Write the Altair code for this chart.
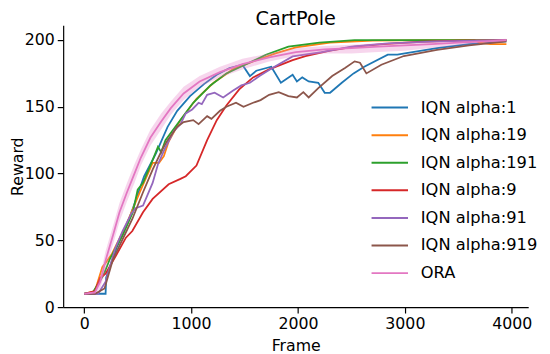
import altair as alt
import pandas as pd

names = ["IQN alpha:1", "IQN alpha:19", "IQN alpha:191", "IQN alpha:9",
         "IQN alpha:91", "IQN alpha:919", "ORA"]
colors = ["#1f77b4", "#ff7f0e", "#2ca02c", "#d62728", "#9467bd", "#8c564b", "#e377c2"]

blue_x = [0, 200, 205, 300, 420, 560, 670, 780, 870, 990, 1120, 1240, 1360, 1480, 1550, 1610,
          1750, 1840, 1950, 1990, 2040, 2100, 2190, 2250, 2300, 2410, 2520, 2620, 2840, 2930,
          3000, 3300, 3600, 3950]
blue_y = [10, 10, 22, 44, 66, 98, 115, 135, 147, 158, 167, 174, 179, 181.5, 173, 177,
          180, 168, 174, 169, 172, 169, 168, 160.5, 160.5, 168, 175, 180, 189, 189,
          190, 194, 197, 199]

orange_x = [0, 100, 170, 200, 260, 390, 520, 640, 700, 745, 790, 900, 1050, 1210, 1390, 1580,
            1790, 1980, 2300, 2700, 3200, 3650, 3700, 3800, 3950]
orange_y = [10, 12, 30, 33, 40, 61, 86, 108, 108, 113, 124, 140, 156, 168, 178, 184,
            190, 194.5, 198, 199.5, 200, 200, 198, 197, 197]

green_x = [0, 80, 180, 240, 360, 455, 500, 550, 640, 690, 720, 760, 870, 1020, 1180, 1330,
           1520, 1700, 1910, 2200, 2530, 3000, 3500, 3950]
green_y = [10, 11, 24, 36, 54, 71, 88, 93, 110, 120, 116, 125, 137, 153, 166, 175,
           182, 189, 195, 198, 200, 200, 200, 200]

red_x = [0, 100, 150, 200, 300, 390, 450, 550, 640, 790, 900, 950, 1050, 1150, 1240, 1330,
         1450, 1580, 1730, 1950, 2070, 2300, 2530, 2800, 3150, 3500, 3950]
red_y = [10, 12, 22, 25, 39, 52, 57, 71, 81, 92, 96, 98, 106, 125, 140, 151,
         163, 172, 178, 185, 188, 192, 195, 197, 198.7, 199.5, 200]

purple_x = [0, 130, 200, 290, 360, 440, 480, 550, 640, 690, 750, 840, 900, 950, 1010, 1070,
            1100, 1150, 1220, 1300, 1390, 1470, 1550, 1640, 1760, 1950, 2220, 2500, 2840,
            3300, 3950]
purple_y = [10, 10, 19, 44, 57, 70, 74, 76, 93, 107, 118, 132, 137, 145, 148, 153,
            152, 159, 160.6, 157, 162, 166, 168, 173, 179, 187.7, 191, 195, 197.5,
            199, 200]

brown_x = [0, 100, 190, 270, 360, 450, 550, 640, 730, 780, 870, 930, 1020, 1070, 1150, 1190,
           1270, 1330, 1420, 1490, 1580, 1650, 1730, 1820, 1910, 1990, 2050, 2100, 2190,
           2320, 2440, 2530, 2580, 2640, 2780, 2990, 3300, 3600, 3950]
brown_y = [10, 10, 14, 36, 51, 66, 86, 103, 118, 125, 135, 138.5, 140, 137, 143, 141,
           147, 150, 153, 150, 153, 155, 159, 161, 158, 157, 161, 157, 164,
           173, 179, 184, 183, 175, 181.5, 188, 192.6, 196, 199]

ora_x = [0, 100, 150, 200, 270, 330, 400, 470, 530, 620, 720, 810, 930, 1080, 1270, 1480,
         1730, 1980, 2250, 2500, 2750, 3000, 3250, 3500, 3750, 3950]
ora_y = [10, 11, 19, 35, 54, 71, 86, 100, 112, 127, 139, 149, 160, 169, 176, 182,
         187, 191, 193, 194, 195, 196, 197, 198, 199, 200]
ora_lo = [10, 10, 14, 28, 47, 64, 79, 93, 106, 121, 133, 144, 155, 165, 172, 178,
          184, 188, 190, 190, 191, 192, 194, 196, 198, 199]
ora_hi = [10, 12, 24, 42, 61, 78, 93, 107, 118, 133, 145, 154, 165, 173, 180, 186,
          190, 194, 195.5, 196.5, 197.5, 198, 198.5, 199, 200, 201]

series = [blue_x, orange_x, green_x, red_x, purple_x, brown_x, ora_x]
values = [blue_y, orange_y, green_y, red_y, purple_y, brown_y, ora_y]

rows = []
for name, xs, ys in zip(names, series, values):
    for x, y in zip(xs, ys):
        rows.append({"series": name, "frame": x, "reward": y})
df = pd.DataFrame(rows)
band = pd.DataFrame({"frame": ora_x, "lo": ora_lo, "hi": ora_hi})

FONT = "DejaVu Sans"
xscale = alt.Scale(domain=[-197, 4154], nice=False, zero=False)
yscale = alt.Scale(domain=[0, 211], nice=False, zero=False)

xenc = alt.X("frame:Q", scale=xscale,
             axis=alt.Axis(title="Frame", values=[0, 1000, 2000, 3000, 4000], format="d",
                           titleX=236, titleY=44, titleBaseline="alphabetic",
                           titleAlign="center"))
yenc = alt.Y("reward:Q", scale=yscale,
             axis=alt.Axis(title="Reward", values=[0, 50, 100, 150, 200], format="d",
                           titleX=-46, titleY=143, titleAngle=270, titleBaseline="middle",
                           titleAlign="center"))
color = alt.Color("series:N", scale=alt.Scale(domain=names, range=colors),
                  legend=alt.Legend(title=None, orient="none", legendX=312, legendY=64,
                                    symbolType="stroke", symbolSize=1369,
                                    symbolStrokeWidth=2, labelFontSize=16.5, labelFont=FONT,
                                    labelColor="black", rowPadding=-8.3, labelOffset=12,
                                    padding=0))

layers = []
for name in names[:-1]:
    layers.append(
        alt.Chart(df).transform_filter(alt.datum.series == name)
        .mark_line(strokeWidth=1.8)
        .encode(x=xenc, y=yenc, color=color)
    )
layers.append(
    alt.Chart(band).mark_area(color="#e377c2", opacity=0.3)
    .encode(x=xenc, y=alt.Y("lo:Q", scale=yscale), y2="hi:Q")
)
layers.append(
    alt.Chart(df).transform_filter(alt.datum.series == "ORA")
    .mark_line(strokeWidth=1.8)
    .encode(x=xenc, y=yenc, color=color)
)

chart = alt.layer(*layers).properties(
    width=472, height=286,
    autosize=alt.AutoSizeParams(type="none"),
    padding={"left": 56, "top": 15, "right": 14, "bottom": 45},
    title=alt.Title("CartPole", fontSize=19.5, font=FONT, fontWeight="normal",
                    offset=0, dy=19, baseline="alphabetic", anchor="middle", color="black"),
).configure_view(stroke=None).configure_axis(
    grid=False, domainColor="black", tickColor="black", labelColor="black",
    titleColor="black", labelFont=FONT, titleFont=FONT, labelFontSize=16,
    titleFontSize=16, titleFontWeight="normal", tickSize=6, labelPadding=3,
    domainWidth=1.2, tickWidth=1.2,
)

chart.save("out.html", embed_options={"renderer": "svg", "actions": False})
